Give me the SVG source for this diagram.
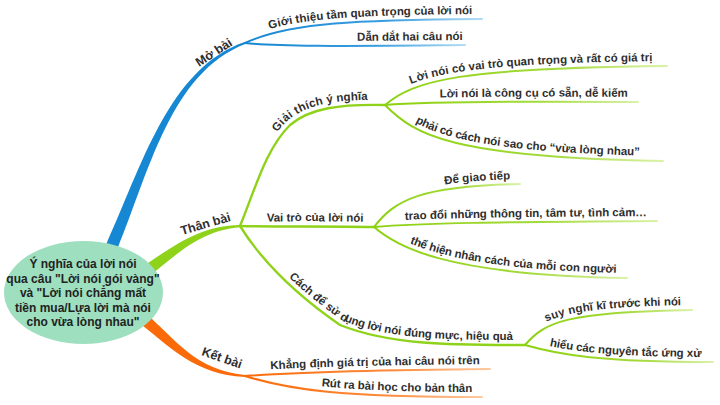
<svg xmlns="http://www.w3.org/2000/svg" xmlns:xlink="http://www.w3.org/1999/xlink" width="720" height="405" viewBox="0 0 720 405">
<style>
.t{font-family:"Liberation Sans",Arial,sans-serif;font-weight:bold;font-size:11.5px;fill:#2e2e2e}
.m{font-size:12.5px}
.c{font-family:"Liberation Sans",Arial,sans-serif;font-weight:bold;font-size:12px;fill:#222;text-anchor:middle}
.lb{fill:none;stroke:url(#gb);stroke-width:2;stroke-linecap:round}
.lg{fill:none;stroke:url(#gg);stroke-width:2;stroke-linecap:round}
.lo{fill:none;stroke:url(#go);stroke-width:2;stroke-linecap:round}
.sg{fill:none;stroke:#8fd21a;stroke-width:2.4;stroke-linecap:round}
</style>
<defs>
<linearGradient id="gb" x1="0" y1="0" x2="1" y2="0"><stop offset="0" stop-color="#1687d2"/><stop offset="0.6" stop-color="#3a9ee0"/><stop offset="1" stop-color="#b4dcf4"/></linearGradient>
<linearGradient id="gg" x1="0" y1="0" x2="1" y2="0"><stop offset="0" stop-color="#8cd10f"/><stop offset="0.6" stop-color="#a3da3a"/><stop offset="1" stop-color="#daf2a8"/></linearGradient>
<linearGradient id="go" x1="0" y1="0" x2="1" y2="0"><stop offset="0" stop-color="#fb6a08"/><stop offset="0.6" stop-color="#fd8a3a"/><stop offset="1" stop-color="#ffc9a0"/></linearGradient>
<path id="p1" d="M245,43 C290,22 360,20 482,19"/>
<path id="p2" d="M245,43 C280,47 350,46 465,45"/>
<path id="p3" d="M240,226 C255,190 265,150 290,125 C310,108 340,104 385,105"/>
<path id="p4" d="M240,226 C280,227 330,226 374,227"/>
<path id="p5" d="M240,226 C250,242 275,280 340,325 C390,345 450,345 525,345"/>
<path id="p6" d="M385,105 C415,80 460,68 667,66"/>
<path id="p7" d="M385,105 C420,102 500,101 638,102"/>
<path id="p8" d="M385,105 C415,135 450,157 663,161"/>
<path id="p9" d="M374,227 C395,200 420,186 520,184"/>
<path id="p10" d="M374,227 C420,223 500,222 657,221"/>
<path id="p11" d="M374,227 C395,245 440,275 627,278"/>
<path id="p12" d="M525,345 C545,322 565,312 692,310"/>
<path id="p13" d="M525,345 C560,355 600,362 713,362"/>
<path id="p14" d="M245,376 C300,372 380,370 490,369"/>
<path id="p15" d="M245,376 C290,390 340,397 482,397"/>
</defs>
<g id="connectors">
<path fill="#1687d2" d="M106.5,243.6 C140.9,168.2 169.15,67.65 244.7,42.1 L245.3,43.9 C170.85,72.35 149.1,171.8 117.5,248.4 Z"/>
<path fill="#8fd21a" d="M136.4,271.2 C172.3,246.4 199.9,225.5 240,225 L240,227.2 C200.1,230.5 177.7,253.6 143.6,280.8 Z"/>
<path fill="#fb6a08" d="M136.2,320.6 C172.1,348.5 194.8,374.5 244.9,377 L245.1,375 C195.2,369.5 177.9,341.5 143.8,311.4 Z"/>
<use href="#p1" class="lb"/>
<use href="#p2" class="lb"/>
<use href="#p3" class="sg"/>
<use href="#p4" class="sg"/>
<use href="#p5" class="sg"/>
<use href="#p6" class="lg"/>
<use href="#p7" class="lg"/>
<use href="#p8" class="lg"/>
<use href="#p9" class="lg"/>
<use href="#p10" class="lg"/>
<use href="#p11" class="lg"/>
<use href="#p12" class="lg"/>
<use href="#p13" class="lg"/>
<use href="#p14" class="lo"/>
<use href="#p15" class="lo"/>
</g>
<g id="center">
<ellipse cx="83.5" cy="292.5" rx="79.5" ry="51.5" fill="#9ddfbe"/>
<text class="c" x="83" y="268">Ý nghĩa của lời nói</text>
<text class="c" x="83" y="282.5">qua câu "Lời nói gói vàng"</text>
<text class="c" x="83" y="297">và "Lời nói chẳng mất</text>
<text class="c" x="83" y="311.5">tiền mua/Lựa lời mà nói</text>
<text class="c" x="83" y="326">cho vừa lòng nhau"</text>
</g>
<g id="mo-bai">
<text class="t m" transform="translate(199,67) rotate(-33)">Mở bài</text>
<text class="t"><textPath href="#p1" startOffset="96%" text-anchor="end"><tspan dy="-5">Giới thiệu tầm quan trọng của lời nói</tspan></textPath></text>
<text class="t"><textPath href="#p2" startOffset="99%" text-anchor="end"><tspan dy="-5">Dẫn dắt hai câu nói</tspan></textPath></text>
</g>
<g id="than-bai">
<text class="t m" transform="translate(182,235) rotate(-16)">Thân bài</text>
<text class="t"><textPath href="#p3" startOffset="92%" text-anchor="end"><tspan dy="-5">Giải thích ý nghĩa</tspan></textPath></text>
<text class="t"><textPath href="#p4" startOffset="92%" text-anchor="end"><tspan dy="-5">Vai trò của lời nói</tspan></textPath></text>
<text class="t"><textPath href="#p5" startOffset="96.4%" text-anchor="end"><tspan dy="-5">Cách để sử dụng lời nói đúng mực, hiệu quả</tspan></textPath></text>
</g>
<g id="giai-thich">
<text class="t"><textPath href="#p6" startOffset="95%" text-anchor="end"><tspan dy="-5">Lời nói có vai trò quan trọng và rất có giá trị</tspan></textPath></text>
<text class="t"><textPath href="#p7" startOffset="96%" text-anchor="end"><tspan dy="-5">Lời nói là công cụ có sẵn, dễ kiếm</tspan></textPath></text>
<text class="t"><textPath href="#p8" startOffset="92%" text-anchor="end"><tspan dy="-5">phải có cách nói sao cho “vừa lòng nhau”</tspan></textPath></text>
</g>
<g id="vai-tro">
<text class="t"><textPath href="#p9" startOffset="94%" text-anchor="end"><tspan dy="-5">Để giao tiếp</tspan></textPath></text>
<text class="t"><textPath href="#p10" startOffset="96.5%" text-anchor="end"><tspan dy="-5">trao đổi những thông tin, tâm tư, tình cảm…</tspan></textPath></text>
<text class="t"><textPath href="#p11" startOffset="96%" text-anchor="end"><tspan dy="-5">thể hiện nhân cách của mỗi con người</tspan></textPath></text>
</g>
<g id="cach-de">
<text class="t"><textPath href="#p12" startOffset="94%" text-anchor="end"><tspan dy="-5">suy nghĩ kĩ trước khi nói</tspan></textPath></text>
<text class="t"><textPath href="#p13" startOffset="94%" text-anchor="end"><tspan dy="-5">hiểu các nguyên tắc ứng xử</tspan></textPath></text>
</g>
<g id="ket-bai">
<text class="t m" transform="translate(201,355) rotate(19)">Kết bài</text>
<text class="t"><textPath href="#p14" startOffset="96%" text-anchor="end"><tspan dy="-5">Khẳng định giá trị của hai câu nói trên</tspan></textPath></text>
<text class="t"><textPath href="#p15" startOffset="96%" text-anchor="end"><tspan dy="-5">Rút ra bài học cho bản thân</tspan></textPath></text>
</g>
</svg>
